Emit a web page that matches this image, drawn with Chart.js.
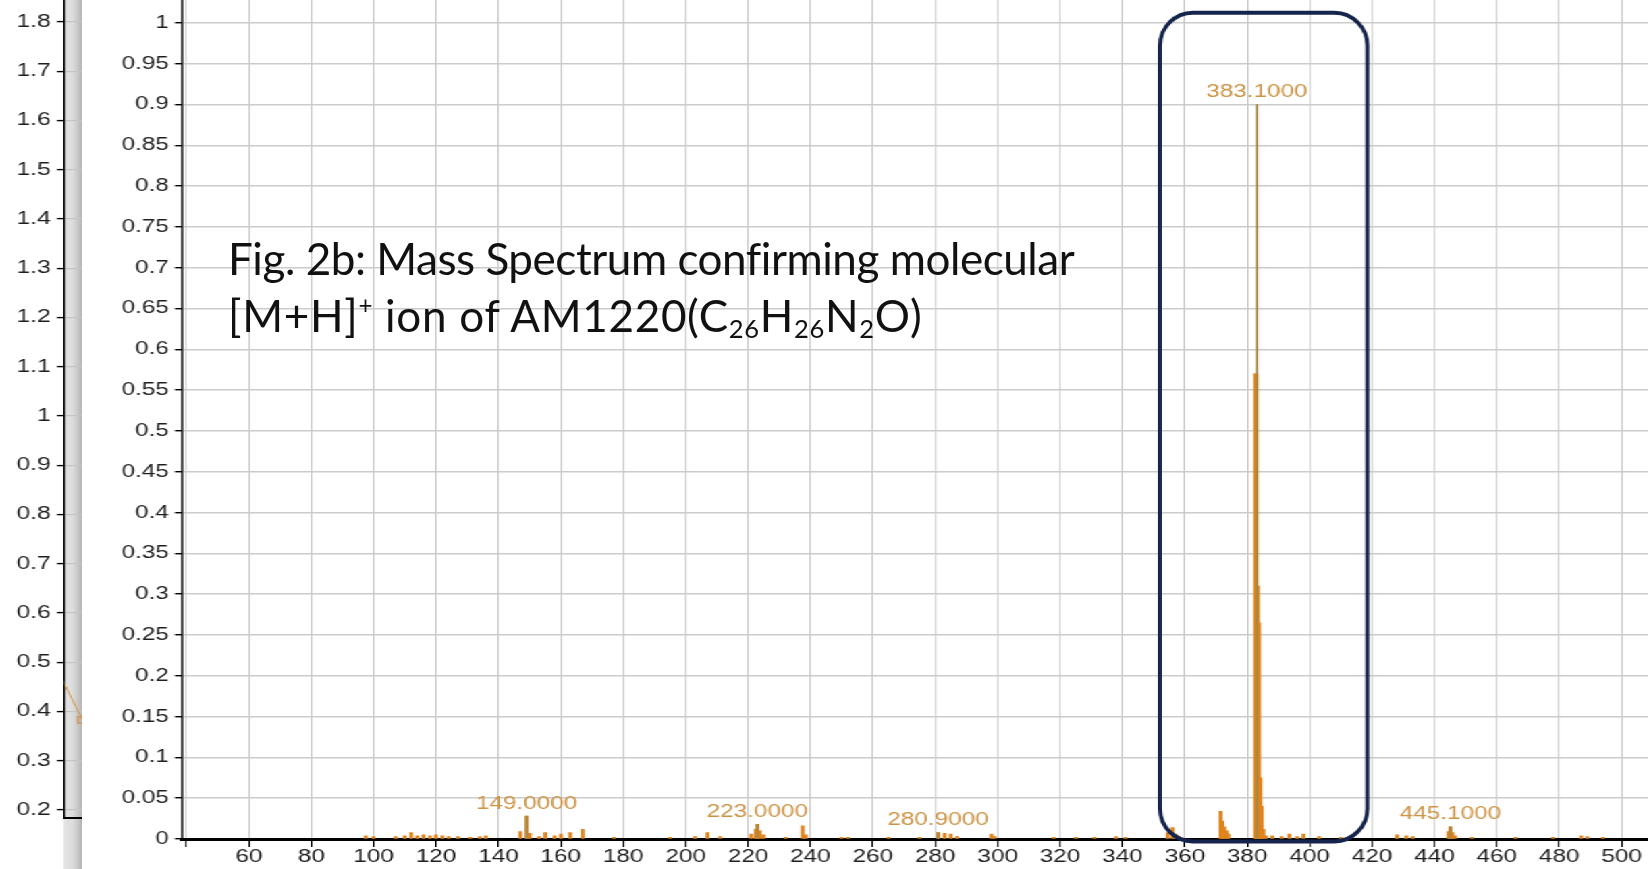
<!DOCTYPE html>
<html lang="en">
<head>
<meta charset="utf-8">
<title>Fig. 2b mass spectrum</title>
<script src="https://cdn.jsdelivr.net/npm/chart.js@4.4.1/dist/chart.umd.min.js"></script>
<style>
  html, body { margin: 0; padding: 0; background: #fff; }
  body { position: relative; width: 1648px; height: 869px; overflow: hidden; }
  /* the screenshot in the figure is stretched sideways, so the charts get the same stretch */
  #stretch { position: absolute; left: 0; top: 0; width: calc(1648px / 1.35); height: 869px;
             transform: scaleX(1.35); transform-origin: 0 0; }
  #frame { position: absolute; left: calc(63px / 1.35); top: 0; width: calc(20px / 1.35); height: 869px;
           background: linear-gradient(to right, #e4e4e4 0%, #dcdcdc 50%, #c4c4c4 80%, #b4b4b4 100%); }
  #backBox { position: absolute; left: 0; top: 0; width: calc(83px / 1.35); height: 824px; }
  #mainBox { position: absolute; left: calc(83px / 1.35); top: 0; width: calc(1565px / 1.35); height: 869px; background: #fff; }
  #caption { position: absolute; left: 228px; top: 230px; z-index: 5; white-space: nowrap;
             font-family: Lato, "Open Sans", sans-serif; font-size: 44px; line-height: 56.6px; color: #111; }
  #caption .l1 { letter-spacing: -0.45px; }
  #caption .l2 { letter-spacing: 0.7px; }
  #caption sup { font-size: 0.55em; line-height: 0; vertical-align: 0.75em; }
  #caption sub { font-size: 0.58em; line-height: 0; vertical-align: -0.22em; }
</style>
</head>
<body>
<div id="stretch">
  <div id="frame"></div>
  <div id="backBox"><canvas id="backChart"></canvas></div>
  <div id="mainBox"><canvas id="mainChart"></canvas></div>
</div>
<div id="caption"><span class="l1">Fig. 2b: Mass Spectrum confirming molecular</span><br><span class="l2">[M+H]<sup>+</sup> ion of AM1220(C<sub>26</sub>H<sub>26</sub>N<sub>2</sub>O)</span></div>

<script>
const S = 1.35; // sideways stretch, same as the css

// tick labels
const xTickValues = [40, 60, 80, 100, 120, 140, 160, 180, 200, 220, 240, 260, 280, 300, 320, 340, 360, 380, 400, 420, 440, 460, 480, 500];
const yTickValues = [0, 0.05, 0.1, 0.15, 0.2, 0.25, 0.3, 0.35, 0.4, 0.45, 0.5, 0.55, 0.6, 0.65, 0.7, 0.75, 0.8, 0.85, 0.9, 0.95, 1];
const backTickValues = [0.2, 0.3, 0.4, 0.5, 0.6, 0.7, 0.8, 0.9, 1, 1.1, 1.2, 1.3, 1.4, 1.5, 1.6, 1.7, 1.8];

// spectrum (m/z, relative intensity)
const mzValues = [
  97.5, 100, 107, 110, 112, 114, 116, 118, 120, 122, 124, 127, 131, 134, 136,
  147, 149, 150, 153, 155, 158, 160, 163, 167, 177, 195, 203, 207, 211,
  221, 222.5, 223, 223.8, 225, 232, 237.5, 238.5, 250, 252, 265, 275,
  281, 283, 285, 287, 298, 299, 318, 325, 331, 338, 341,
  354.5, 356, 357, 358, 371.5, 372, 372.7, 373.4, 374,
  382.6, 382.9, 383.4, 383.8, 384.2, 384.6, 385.2, 386, 388, 391, 393.5, 396, 398, 403, 410,
  428, 431, 433, 444.5, 445.1, 445.8, 446.6, 452, 466, 478, 487, 489, 494
];
const intensities = [
  0.004, 0.003, 0.003, 0.004, 0.008, 0.004, 0.005, 0.004, 0.005, 0.004, 0.003, 0.003, 0.002, 0.003, 0.004,
  0.009, 0.028, 0.007, 0.003, 0.008, 0.004, 0.006, 0.008, 0.012, 0.002, 0.002, 0.003, 0.008, 0.003,
  0.006, 0.012, 0.018, 0.010, 0.005, 0.002, 0.016, 0.005, 0.002, 0.002, 0.002, 0.002,
  0.008, 0.007, 0.006, 0.003, 0.006, 0.003, 0.002, 0.002, 0.002, 0.003, 0.002,
  0.008, 0.014, 0.006, 0.003, 0.034, 0.022, 0.015, 0.010, 0.006,
  0.57, 0.57, 0.31, 0.265, 0.075, 0.04, 0.012, 0.004, 0.004, 0.003, 0.006, 0.003, 0.006, 0.003, 0.002,
  0.005, 0.004, 0.003, 0.009, 0.015, 0.008, 0.004, 0.002, 0.002, 0.002, 0.004, 0.003, 0.002
];

// labelled centroid peaks
const labelledMz = [149.0, 223.0, 280.9, 383.1, 445.1];
const labelledIntensity = [0.028, 0.018, 0.008, 0.90, 0.015];

// the chart behind, only its edge shows
const backX = [-3, 18];
const backY = [0.47, 0.383];

const tickFont = { family: '"Liberation Sans", Arial, sans-serif', size: 18 };

function setTicks(values) {
  return function (scale) { scale.ticks = values.map(v => ({ value: v })); };
}
function fmt(v) { return String(+v.toFixed(2)); }

const peakLabels = {
  id: 'peakLabels',
  afterDatasetsDraw(chart) {
    const ctx = chart.ctx, x = chart.scales.x, y = chart.scales.y;
    ctx.save();
    ctx.font = '18px "Liberation Sans", Arial, sans-serif';
    ctx.fillStyle = '#cd9445';
    ctx.textAlign = 'center';
    ctx.textBaseline = 'alphabetic';
    labelledMz.forEach(function (m, i) {
      ctx.fillText(m.toFixed(4), x.getPixelForValue(m), y.getPixelForValue(labelledIntensity[i]) - 7.5);
    });
    ctx.restore();
  }
};

// rounded box round the molecular ion, drawn unstretched
const highlightBox = {
  id: 'highlightBox',
  afterDraw(chart) {
    const ctx = chart.ctx, x = chart.scales.x, y = chart.scales.y;
    const left = x.getPixelForValue(352) * S;
    const right = x.getPixelForValue(418.5) * S;
    const top = y.getPixelForValue(1.0125);
    const bottom = y.getPixelForValue(-0.003);
    ctx.save();
    ctx.scale(1 / S, 1);
    ctx.beginPath();
    ctx.roundRect(left, top, right - left, bottom - top, 33);
    ctx.lineWidth = 4;
    ctx.strokeStyle = '#15244c';
    ctx.stroke();
    ctx.restore();
  }
};

new Chart(document.getElementById('mainChart'), {
  type: 'bar',
  data: {
    datasets: [{
      label: 'profile',
      data: mzValues.map((m, i) => ({ x: m, y: intensities[i] })),
      backgroundColor: '#e0841e',
      borderWidth: 0,
      barThickness: 2.2,
      stack: 'spec',
      order: 2
    }, {
      label: 'centroid',
      data: labelledMz.map((m, i) => ({ x: m, y: labelledIntensity[i] })),
      backgroundColor: '#a48845',
      borderWidth: 0,
      barThickness: 1.1,
      stack: 'spec',
      order: 1
    }]
  },
  options: {
    responsive: true,
    maintainAspectRatio: false,
    animation: false,
    layout: { padding: 0, autoPadding: false },
    plugins: { legend: { display: false }, tooltip: { enabled: false } },
    scales: {
      x: {
        type: 'linear',
        min: 38.56,
        max: 508.7,
        offset: false,
        grid: { color: '#cbcbcb', lineWidth: 1.1, offset: false, tickLength: 8, tickColor: '#000', tickWidth: 1.1 },
        border: { color: '#000', width: 3 },
        ticks: {
          font: tickFont, color: '#1e1e1e', padding: -1, autoSkip: false, maxRotation: 0,
          callback: v => (v === 40 ? '' : String(v))
        },
        afterBuildTicks: setTicks(xTickValues),
        afterFit(scale) { scale.height = 30; scale.paddingLeft = 0; scale.paddingRight = 0; }
      },
      y: {
        min: 0,
        max: 1.028,
        stacked: false,
        grid: { color: '#cbcbcb', lineWidth: 1.4, tickLength: 5.2, tickColor: '#000', tickWidth: 1.4 },
        border: { color: '#000', width: 1.5 },
        ticks: { font: tickFont, color: '#1e1e1e', padding: 4.4, callback: v => fmt(v) },
        afterBuildTicks: setTicks(yTickValues),
        afterFit(scale) { scale.width = 73.7; scale.paddingTop = 0; scale.paddingBottom = 0; }
      }
    }
  },
  plugins: [peakLabels, highlightBox]
});

new Chart(document.getElementById('backChart'), {
  type: 'line',
  data: {
    datasets: [{
      data: backX.map((v, i) => ({ x: v, y: backY[i] })),
      borderColor: '#d4974c',
      borderWidth: 1,
      pointStyle: 'rect',
      pointRadius: [0, 4.5],
      pointBorderColor: '#d08f45',
      pointBackgroundColor: 'rgba(0,0,0,0)',
      pointBorderWidth: 1.2
    }]
  },
  options: {
    responsive: true,
    maintainAspectRatio: false,
    animation: false,
    layout: { padding: 0, autoPadding: false },
    plugins: { legend: { display: false }, tooltip: { enabled: false } },
    scales: {
      x: {
        type: 'linear', min: 0, max: 20,
        grid: { drawOnChartArea: false, drawTicks: false },
        border: { color: '#000', width: 2 },
        ticks: { display: false },
        afterFit(scale) { scale.height = 6; scale.paddingLeft = 0; scale.paddingRight = 0; }
      },
      y: {
        min: 0.18376, max: 1.8447,
        grid: { color: '#c4c4c4', lineWidth: 1.2, tickLength: 5.2, tickColor: '#000', tickWidth: 1.4 },
        border: { color: '#000', width: 1.5 },
        ticks: { font: tickFont, color: '#1e1e1e', padding: 4.4, callback: v => fmt(v) },
        afterBuildTicks: setTicks(backTickValues),
        afterFit(scale) { scale.width = 46.67; scale.paddingTop = 0; scale.paddingBottom = 0; }
      }
    }
  }
});
</script>
</body>
</html>
